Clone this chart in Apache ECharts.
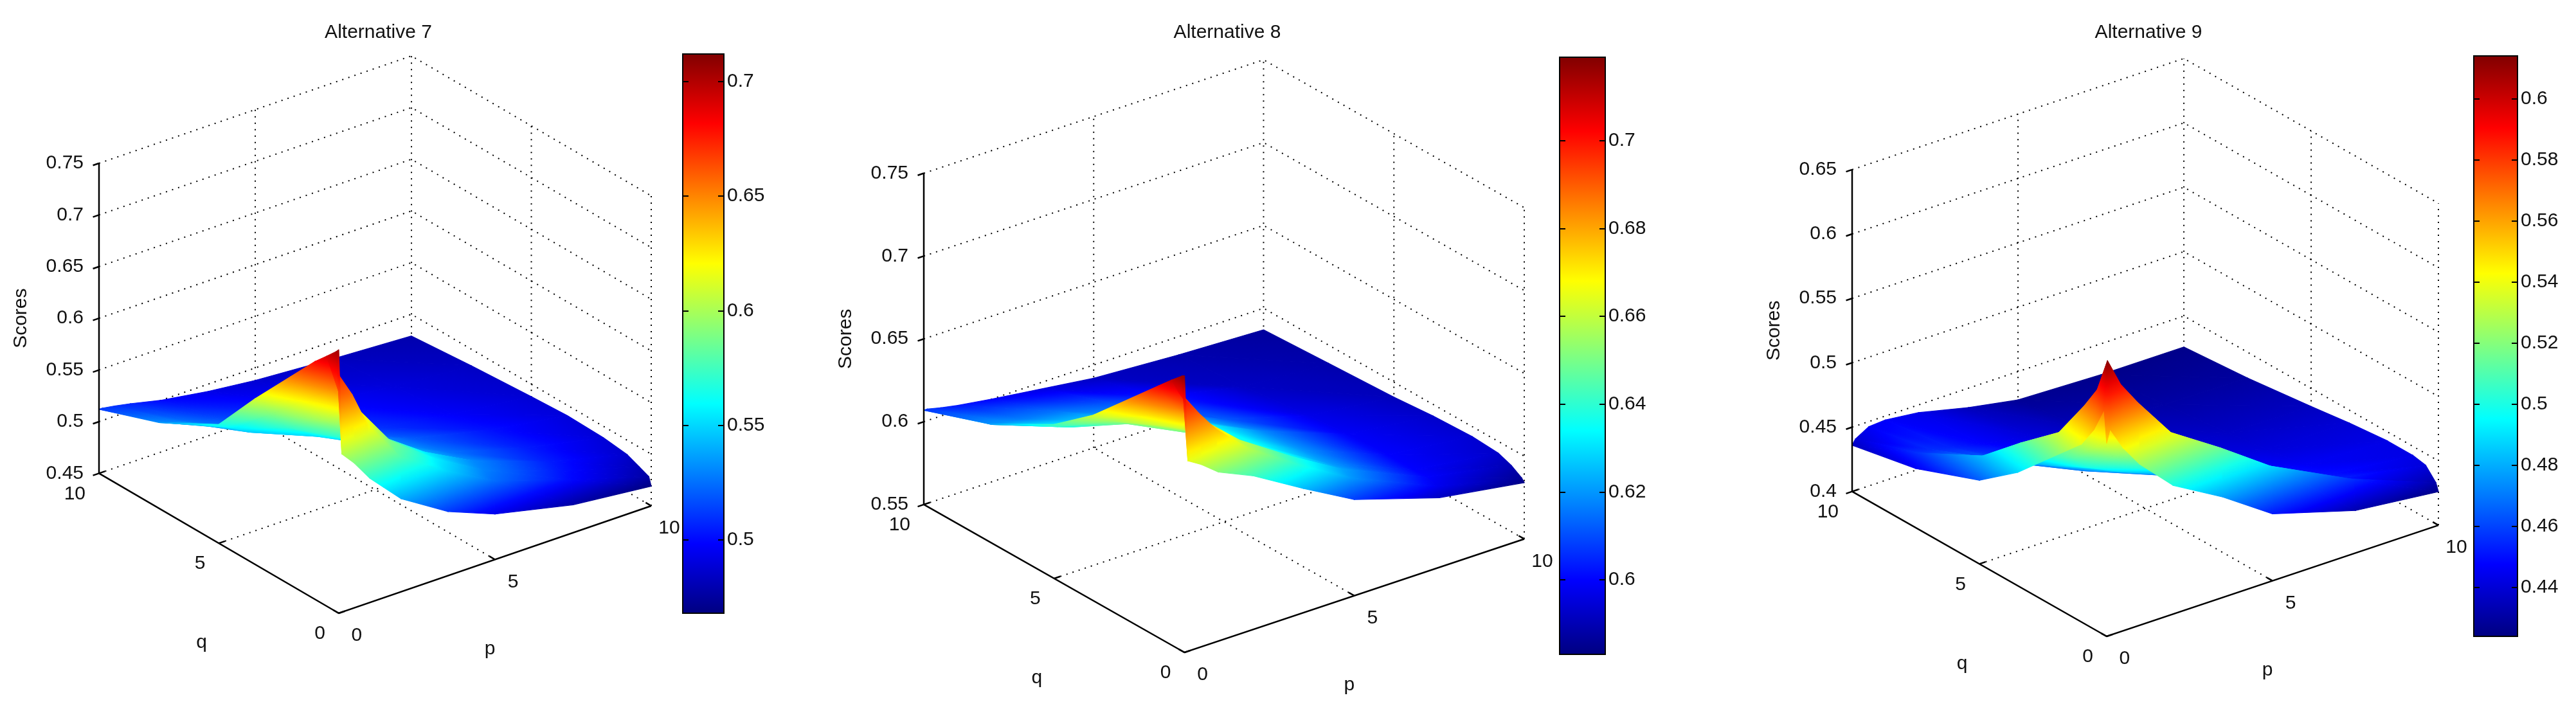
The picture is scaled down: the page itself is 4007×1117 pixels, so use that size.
<!DOCTYPE html>
<html>
<head>
<meta charset="utf-8">
<title>Scores of alternatives 7-9</title>
<style>
    html, body, #chart {width: 100%; height: 100%; margin: 0; overflow: hidden; background: #fff;}
</style>
</head>
<body>
<div id="chart"></div>
<script src="https://cdn.jsdelivr.net/npm/echarts@6/dist/echarts.min.js"></script>
<script>
// grid nodes of the parameters (same for the three alternatives)
var pNodes = [0, 0.1, 0.5, 1, 2, 3.5, 5, 7.5, 10];
var qNodes = [0, 0.1, 0.5, 1, 2, 3.5, 5, 7.5, 10];

// scores: one row per q node, one column per p node
var alt7 = [
    [0.705, 0.603, 0.590, 0.570, 0.540, 0.512, 0.494, 0.477, 0.469],
    [0.702, 0.660, 0.655, 0.620, 0.580, 0.550, 0.525, 0.500, 0.477],
    [0.692, 0.685, 0.660, 0.630, 0.590, 0.556, 0.530, 0.503, 0.481],
    [0.680, 0.672, 0.648, 0.625, 0.588, 0.556, 0.532, 0.505, 0.486],
    [0.652, 0.645, 0.625, 0.600, 0.570, 0.546, 0.527, 0.505, 0.489],
    [0.610, 0.605, 0.590, 0.572, 0.553, 0.536, 0.520, 0.502, 0.490],
    [0.565, 0.562, 0.556, 0.547, 0.535, 0.522, 0.510, 0.497, 0.488],
    [0.533, 0.532, 0.529, 0.524, 0.516, 0.507, 0.499, 0.490, 0.484],
    [0.512, 0.512, 0.510, 0.507, 0.500, 0.493, 0.488, 0.483, 0.479]
];
var alt8 = [
    [0.717, 0.665, 0.660, 0.652, 0.643, 0.625, 0.608, 0.592, 0.584],
    [0.716, 0.700, 0.690, 0.677, 0.658, 0.638, 0.620, 0.598, 0.586],
    [0.710, 0.705, 0.690, 0.678, 0.660, 0.640, 0.622, 0.600, 0.590],
    [0.702, 0.698, 0.685, 0.673, 0.657, 0.638, 0.621, 0.600, 0.593],
    [0.686, 0.682, 0.672, 0.662, 0.650, 0.635, 0.620, 0.600, 0.594],
    [0.662, 0.660, 0.655, 0.650, 0.645, 0.632, 0.618, 0.599, 0.593],
    [0.643, 0.641, 0.638, 0.636, 0.632, 0.624, 0.612, 0.597, 0.591],
    [0.621, 0.620, 0.619, 0.617, 0.615, 0.610, 0.603, 0.592, 0.589],
    [0.607, 0.607, 0.605, 0.603, 0.600, 0.596, 0.592, 0.589, 0.587]
];
var alt9 = [
    [0.550, 0.560, 0.542, 0.525, 0.500, 0.478, 0.452, 0.433, 0.426],
    [0.575, 0.612, 0.590, 0.572, 0.540, 0.515, 0.488, 0.456, 0.432],
    [0.555, 0.585, 0.548, 0.532, 0.512, 0.494, 0.476, 0.453, 0.441],
    [0.538, 0.567, 0.532, 0.520, 0.502, 0.485, 0.468, 0.450, 0.443],
    [0.518, 0.535, 0.512, 0.500, 0.488, 0.472, 0.458, 0.446, 0.443],
    [0.488, 0.510, 0.494, 0.485, 0.472, 0.460, 0.448, 0.441, 0.440],
    [0.465, 0.483, 0.477, 0.470, 0.461, 0.450, 0.442, 0.437, 0.436],
    [0.446, 0.457, 0.456, 0.454, 0.448, 0.441, 0.435, 0.431, 0.430],
    [0.436, 0.440, 0.446, 0.447, 0.444, 0.435, 0.428, 0.426, 0.426]
];

var titles = ['Alternative 7', 'Alternative 8', 'Alternative 9'];
var zRanges = [[0.45, 0.75], [0.55, 0.75], [0.4, 0.65]];
var zTicks = [
    [0.45, 0.5, 0.55, 0.6, 0.65, 0.7, 0.75],
    [0.55, 0.6, 0.65, 0.7, 0.75],
    [0.4, 0.45, 0.5, 0.55, 0.6, 0.65]
];
var pqTicks = [0, 5, 10];
var cRanges = [[0.468, 0.712], [0.583, 0.719], [0.424, 0.614]];
var cTicks = [
    [0.5, 0.55, 0.6, 0.65, 0.7],
    [0.6, 0.62, 0.64, 0.66, 0.68, 0.7],
    [0.44, 0.46, 0.48, 0.5, 0.52, 0.54, 0.56, 0.58, 0.6]
];

// layout (pixels)
var boxes = [
    {left: 154, top: 87, width: 859, height: 867, kz: 1.015},
    {left: 1437, top: 93, width: 934, height: 922, kz: 1.026},
    {left: 2881, top: 91, width: 912, height: 899, kz: 1.018}
];
var bars = [
    {left: 1062, top: 84, width: 64, height: 870},
    {left: 2426, top: 89, width: 71, height: 929},
    {left: 3848, top: 87, width: 68, height: 903}
];
var FONT = 'Liberation Sans';
var FS = 30;

// default matlab view: az -37.5, el 30
var AZ = 37.5 * Math.PI / 180, EL = 30 * Math.PI / 180;
var cA = Math.cos(AZ), sA = Math.sin(AZ), cE = Math.cos(EL), sE = Math.sin(EL);

function project(k, p, q, z) {
    var r = zRanges[k];
    var pn = p / 10, qn = q / 10, zn = (z - r[0]) / (r[1] - r[0]);
    return [pn * cA - qn * sA, (pn * sA + qn * cA) * sE + zn * cE * boxes[k].kz];
}

function jet(t) {
    t = Math.max(0, Math.min(1, t));
    var r = Math.min(Math.max(Math.min(4 * t - 1.5, -4 * t + 4.5), 0), 1);
    var g = Math.min(Math.max(Math.min(4 * t - 0.5, -4 * t + 3.5), 0), 1);
    var b = Math.min(Math.max(Math.min(4 * t + 0.5, -4 * t + 2.5), 0), 1);
    return 'rgb(' + Math.round(r * 255) + ',' + Math.round(g * 255) + ',' + Math.round(b * 255) + ')';
}

// linear shading across one triangle, as a global linear gradient
function triFill(pts, vals, range) {
    var span = range[1] - range[0];
    var vmin = Math.min(vals[0], vals[1], vals[2]);
    var vmax = Math.max(vals[0], vals[1], vals[2]);
    var dx1 = pts[1][0] - pts[0][0], dy1 = pts[1][1] - pts[0][1];
    var dx2 = pts[2][0] - pts[0][0], dy2 = pts[2][1] - pts[0][1];
    var det = dx1 * dy2 - dx2 * dy1;
    if (Math.abs(det) < 1e-6 || vmax - vmin < 1e-9) {
        return jet(((vmin + vmax) / 2 - range[0]) / span);
    }
    var d1 = vals[1] - vals[0], d2 = vals[2] - vals[0];
    var a = (d1 * dy2 - d2 * dy1) / det;
    var b = (dx1 * d2 - dx2 * d1) / det;
    var g2 = a * a + b * b;
    var im = vals.indexOf(vmin);
    var sx = pts[im][0], sy = pts[im][1];
    var ex = sx + a * (vmax - vmin) / g2, ey = sy + b * (vmax - vmin) / g2;
    var stops = [];
    for (var s = 0; s <= 8; s++) {
        var t = s / 8;
        stops.push({offset: t, color: jet((vmin + t * (vmax - vmin) - range[0]) / span)});
    }
    return new echarts.graphic.LinearGradient(sx, sy, ex, ey, stops, true);
}

// triangles in back-to-front order
function buildTris(scores) {
    var cells = [], tris = [];
    for (var j = 0; j < qNodes.length - 1; j++) {
        for (var i = 0; i < pNodes.length - 1; i++) cells.push([i, j]);
    }
    cells.sort(function (a, b) { return (b[0] + b[1]) - (a[0] + a[1]); });
    function node(i, j) { return [pNodes[i], qNodes[j], scores[j][i]]; }
    cells.forEach(function (c) {
        var i = c[0], j = c[1];
        tris.push([node(i + 1, j), node(i + 1, j + 1), node(i, j + 1)]);
        tris.push([node(i, j), node(i + 1, j), node(i, j + 1)]);
    });
    return tris;
}

function unit(a, b) {
    var dx = b[0] - a[0], dy = b[1] - a[1], l = Math.sqrt(dx * dx + dy * dy);
    return [dx / l, dy / l];
}

function label(x, y, text, align, extra) {
    var el = {
        type: 'text', x: x, y: y,
        style: {text: text, fill: '#111', fontSize: FS, fontFamily: FONT, align: align, verticalAlign: 'middle'}
    };
    if (extra) for (var key in extra) el[key] = extra[key];
    return el;
}

function backFrame(k) {
    return function (params, api) {
        var r = zRanges[k];
        var P = function (p, q, z) { return api.coord(project(k, p, q, z)); };
        var dot = {stroke: '#000', lineWidth: 2, lineDash: [2, 8], fill: null};
        var kids = [];
        zTicks[k].forEach(function (zt) {
            kids.push({type: 'polyline', shape: {points: [P(0, 10, zt), P(10, 10, zt), P(10, 0, zt)]}, style: dot});
        });
        pqTicks.forEach(function (t) {
            if (t > 0) kids.push({type: 'polyline', shape: {points: [P(t, 10, r[0]), P(t, 10, r[1])]}, style: dot});
            if (t < 10) kids.push({type: 'polyline', shape: {points: [P(10, t, r[0]), P(10, t, r[1])]}, style: dot});
            if (t > 0 && t < 10) {
                kids.push({type: 'polyline', shape: {points: [P(0, t, r[0]), P(10, t, r[0])]}, style: dot});
                kids.push({type: 'polyline', shape: {points: [P(t, 0, r[0]), P(t, 10, r[0])]}, style: dot});
            }
        });
        return {type: 'group', children: kids};
    };
}

function frontFrame(k) {
    return function (params, api) {
        var r = zRanges[k];
        var P = function (p, q, z) { return api.coord(project(k, p, q, z)); };
        var solid = {stroke: '#000', lineWidth: 2.5, fill: null};
        var kids = [];
        kids.push({type: 'polyline', shape: {points: [P(0, 10, r[0]), P(0, 10, r[1])]}, style: solid});
        kids.push({type: 'polyline', shape: {points: [P(0, 10, r[0]), P(0, 0, r[0]), P(10, 0, r[0])]}, style: solid});
        var tl = 10;
        zTicks[k].forEach(function (zt) {
            var a = P(0, 10, zt), d = unit(a, P(10, 10, zt));
            kids.push({type: 'polyline', shape: {points: [a, [a[0] - d[0] * tl, a[1] - d[1] * tl]]}, style: solid});
            kids.push(label(a[0] - 24, a[1], String(zt), 'right'));
        });
        pqTicks.forEach(function (t) {
            var a = P(0, t, r[0]), d = unit(a, P(10, t, r[0]));
            kids.push({type: 'polyline', shape: {points: [a, [a[0] + d[0] * tl, a[1] + d[1] * tl]]}, style: solid});
            kids.push(label(a[0] - 21, a[1] + 32, String(t), 'right'));
            var b = P(t, 0, r[0]), e = unit(b, P(t, 10, r[0]));
            kids.push({type: 'polyline', shape: {points: [b, [b[0] + e[0] * tl, b[1] + e[1] * tl]]}, style: solid});
            kids.push(label(b[0] + 28, b[1] + 35, String(t), 'center'));
        });
        var qm = P(0, 5, r[0]), pm = P(5, 0, r[0]);
        kids.push(label(qm[0] - 27, qm[1] + 155, 'q', 'center'));
        kids.push(label(pm[0] - 8, pm[1] + 139, 'p', 'center'));
        var z0 = P(0, 10, r[0]), z1 = P(0, 10, r[1]);
        kids.push(label(z0[0] - 121, (z0[1] + z1[1]) / 2, 'Scores', 'center', {rotation: Math.PI / 2}));
        return {type: 'group', children: kids};
    };
}

var allScores = [alt7, alt8, alt9];
var grid = [], xAxis = [], yAxis = [], series = [], title = [];

boxes.forEach(function (b, k) {
    var vmax = (sA + cA) * sE + cE * b.kz;
    grid.push({left: b.left, top: b.top, width: b.width, height: b.height, containLabel: false, outerBoundsMode: 'none'});
    xAxis.push({type: 'value', gridIndex: k, min: -sA, max: cA, show: false});
    yAxis.push({type: 'value', gridIndex: k, min: 0, max: vmax, show: false});
    title.push({
        text: titles[k], left: b.left + b.width / 2, top: 31, textAlign: 'center',
        textStyle: {fontSize: FS, fontWeight: 'normal', fontFamily: FONT, color: '#111'}
    });
});

bars.forEach(function (b, k) {
    var gi = 3 + k;
    grid.push({left: b.left, top: b.top, width: b.width, height: b.height, containLabel: false, outerBoundsMode: 'none'});
    xAxis.push({type: 'value', gridIndex: gi, min: 0, max: 1, show: false});
    [false, true].forEach(function (isRight) {
        yAxis.push({
            type: 'value', gridIndex: gi, min: cRanges[k][0], max: cRanges[k][1],
            position: isRight ? 'right' : 'left', z: 5,
            axisLine: {show: false},
            splitLine: {show: false},
            axisTick: {show: true, inside: true, length: 9, customValues: cTicks[k], lineStyle: {color: '#000', width: 2}},
            axisLabel: {
                show: isRight, customValues: cTicks[k], margin: 5,
                color: '#111', fontSize: FS, fontFamily: FONT
            }
        });
    });
});

boxes.forEach(function (b, k) {
    var tris = buildTris(allScores[k]);
    series.push({
        type: 'custom', coordinateSystem: 'cartesian2d', xAxisIndex: k, yAxisIndex: k, z: 1,
        silent: true, data: [[0, 0]], renderItem: backFrame(k)
    });
    series.push({
        type: 'custom', coordinateSystem: 'cartesian2d', xAxisIndex: k, yAxisIndex: k, z: 2,
        silent: true,
        data: tris.map(function (t) {
            return project(k, (t[0][0] + t[1][0] + t[2][0]) / 3, (t[0][1] + t[1][1] + t[2][1]) / 3,
                (t[0][2] + t[1][2] + t[2][2]) / 3);
        }),
        renderItem: function (params, api) {
            var t = tris[params.dataIndex];
            var pts = t.map(function (v) { return api.coord(project(k, v[0], v[1], v[2])); });
            var fill = triFill(pts, [t[0][2], t[1][2], t[2][2]], cRanges[k]);
            return {
                type: 'polygon', z2: params.dataIndex, shape: {points: pts},
                style: {fill: fill, stroke: fill, lineWidth: 1.2, lineJoin: 'round'}
            };
        }
    });
    series.push({
        type: 'custom', coordinateSystem: 'cartesian2d', xAxisIndex: k, yAxisIndex: k, z: 3,
        silent: true, data: [[0, 0]], renderItem: frontFrame(k)
    });
    series.push({
        type: 'custom', coordinateSystem: 'cartesian2d', xAxisIndex: 3 + k, yAxisIndex: 4 + 2 * k, z: 2,
        silent: true, data: [[0, cRanges[k][0]]],
        renderItem: function (params, api) {
            var a = api.coord([0, cRanges[k][0]]), c = api.coord([1, cRanges[k][1]]);
            var stops = [];
            for (var s = 0; s <= 16; s++) stops.push({offset: s / 16, color: jet(s / 16)});
            return {
                type: 'rect',
                shape: {x: a[0], y: c[1], width: c[0] - a[0], height: a[1] - c[1]},
                style: {fill: new echarts.graphic.LinearGradient(0, 1, 0, 0, stops), stroke: '#000', lineWidth: 2}
            };
        }
    });
});

var myChart = echarts.init(document.getElementById('chart'));
myChart.setOption({
    animation: false,
    backgroundColor: '#fff',
    title: title,
    grid: grid,
    xAxis: xAxis,
    yAxis: yAxis,
    series: series
});
</script>
</body>
</html>
